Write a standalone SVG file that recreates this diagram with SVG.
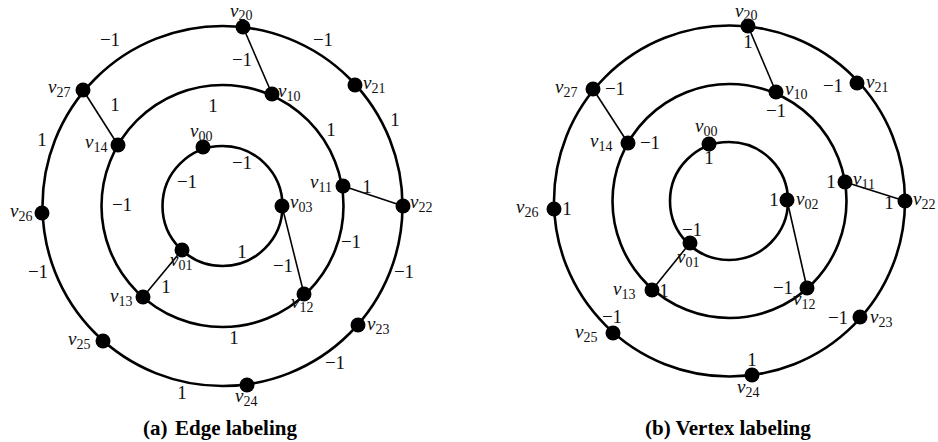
<svg xmlns="http://www.w3.org/2000/svg" width="938" height="442" viewBox="0 0 938 442">
<style>
.ring{fill:none;stroke:#000;stroke-width:2.6}
.edge{stroke:#000;stroke-width:1.6}
.dot{fill:#000}
.lb{font-family:"Liberation Serif",serif;font-style:italic;font-size:19px;fill:#111}
.sub{font-style:normal;font-size:14px}
.num{font-family:"Liberation Serif",serif;font-size:19px;fill:#111;text-anchor:middle}
.cap{font-family:"Liberation Serif",serif;font-weight:bold;font-size:21px;fill:#000}
</style>
<rect width="938" height="442" fill="#fff"/>
<g id="connectors">
<circle class="ring" cx="222.5" cy="206" r="60"/>
<circle class="ring" cx="222.5" cy="206" r="121"/>
<circle class="ring" cx="222.5" cy="206" r="180"/>
<line class="edge" x1="243" y1="27" x2="272" y2="94"/>
<line class="edge" x1="83" y1="90" x2="118" y2="145"/>
<line class="edge" x1="343" y1="186" x2="403" y2="206"/>
<line class="edge" x1="282" y1="206" x2="304" y2="294"/>
<line class="edge" x1="182" y1="250" x2="143" y2="297"/>
<circle class="ring" cx="729" cy="201" r="59"/>
<circle class="ring" cx="729.5" cy="201" r="117"/>
<circle class="ring" cx="729.5" cy="201" r="175.5"/>
<line class="edge" x1="748" y1="26" x2="776" y2="92"/>
<line class="edge" x1="593" y1="89" x2="628" y2="143"/>
<line class="edge" x1="845" y1="182" x2="905" y2="201"/>
<line class="edge" x1="787" y1="200" x2="807" y2="288"/>
<line class="edge" x1="690" y1="243" x2="652" y2="290"/>
</g>
<g id="edge-labels">
<text class="num" x="110" y="46">−1</text>
<text class="num" x="323" y="46">−1</text>
<text class="num" x="242" y="66">−1</text>
<text class="num" x="115" y="111">1</text>
<text class="num" x="213" y="112">1</text>
<text class="num" x="42" y="146">1</text>
<text class="num" x="395" y="126">1</text>
<text class="num" x="331" y="136">1</text>
<text class="num" x="367" y="193">1</text>
<text class="num" x="187" y="188">−1</text>
<text class="num" x="242" y="169">−1</text>
<text class="num" x="122" y="211">−1</text>
<text class="num" x="38" y="278">−1</text>
<text class="num" x="166" y="293">1</text>
<text class="num" x="242" y="258">1</text>
<text class="num" x="283" y="272">−1</text>
<text class="num" x="351" y="248">−1</text>
<text class="num" x="404" y="278">−1</text>
<text class="num" x="234" y="344">1</text>
<text class="num" x="335" y="369">−1</text>
<text class="num" x="182" y="399">1</text>
</g>
<g id="a-v00"><circle class="dot" cx="203" cy="147" r="7.5"/><text class="lb" x="190" y="137">v<tspan class="sub" dy="4">00</tspan></text></g>
<g id="a-v01"><circle class="dot" cx="182" cy="250" r="7.5"/><text class="lb" x="170" y="266">v<tspan class="sub" dy="4">01</tspan></text></g>
<g id="a-v03"><circle class="dot" cx="282" cy="206" r="7.5"/><text class="lb" x="290" y="208">v<tspan class="sub" dy="4">03</tspan></text></g>
<g id="a-v10"><circle class="dot" cx="272" cy="94" r="7.5"/><text class="lb" x="278" y="97">v<tspan class="sub" dy="4">10</tspan></text></g>
<g id="a-v11"><circle class="dot" cx="343" cy="186" r="7.5"/><text class="lb" x="310" y="188">v<tspan class="sub" dy="4">11</tspan></text></g>
<g id="a-v12"><circle class="dot" cx="304" cy="294" r="7.5"/><text class="lb" x="291" y="308">v<tspan class="sub" dy="4">12</tspan></text></g>
<g id="a-v13"><circle class="dot" cx="143" cy="297" r="7.5"/><text class="lb" x="110" y="302">v<tspan class="sub" dy="4">13</tspan></text></g>
<g id="a-v14"><circle class="dot" cx="118" cy="145" r="7.5"/><text class="lb" x="85" y="148">v<tspan class="sub" dy="4">14</tspan></text></g>
<g id="a-v20"><circle class="dot" cx="243" cy="27" r="7.5"/><text class="lb" x="230" y="17">v<tspan class="sub" dy="3">20</tspan></text></g>
<g id="a-v21"><circle class="dot" cx="355" cy="85" r="7.5"/><text class="lb" x="363" y="89">v<tspan class="sub" dy="4">21</tspan></text></g>
<g id="a-v22"><circle class="dot" cx="403" cy="206" r="7.5"/><text class="lb" x="410" y="208">v<tspan class="sub" dy="4">22</tspan></text></g>
<g id="a-v23"><circle class="dot" cx="358" cy="325" r="7.5"/><text class="lb" x="367" y="330">v<tspan class="sub" dy="4">23</tspan></text></g>
<g id="a-v24"><circle class="dot" cx="247" cy="385" r="7.5"/><text class="lb" x="235" y="402">v<tspan class="sub" dy="4">24</tspan></text></g>
<g id="a-v25"><circle class="dot" cx="103" cy="341" r="7.5"/><text class="lb" x="68" y="345">v<tspan class="sub" dy="4">25</tspan></text></g>
<g id="a-v26"><circle class="dot" cx="42" cy="213" r="7.5"/><text class="lb" x="10" y="217">v<tspan class="sub" dy="4">26</tspan></text></g>
<g id="a-v27"><circle class="dot" cx="83" cy="90" r="7.5"/><text class="lb" x="48" y="93">v<tspan class="sub" dy="4">27</tspan></text></g>

<g id="b-v00"><circle class="dot" cx="709" cy="144" r="7.5"/><text class="lb" x="695" y="132">v<tspan class="sub" dy="4">00</tspan></text><text class="num" x="709" y="164">1</text></g>
<g id="b-v01"><circle class="dot" cx="690" cy="243" r="7.5"/><text class="lb" x="677" y="263">v<tspan class="sub" dy="4">01</tspan></text><text class="num" x="692" y="236">−1</text></g>
<g id="b-v02"><circle class="dot" cx="787" cy="200" r="7.5"/><text class="lb" x="796" y="205">v<tspan class="sub" dy="4">02</tspan></text><text class="num" x="774" y="206">1</text></g>
<g id="b-v10"><circle class="dot" cx="776" cy="92" r="7.5"/><text class="lb" x="785" y="95">v<tspan class="sub" dy="4">10</tspan></text><text class="num" x="776" y="117">−1</text></g>
<g id="b-v11"><circle class="dot" cx="845" cy="182" r="7.5"/><text class="lb" x="853" y="185">v<tspan class="sub" dy="4">11</tspan></text><text class="num" x="831" y="188">1</text></g>
<g id="b-v12"><circle class="dot" cx="807" cy="288" r="7.5"/><text class="lb" x="793" y="305">v<tspan class="sub" dy="4">12</tspan></text><text class="num" x="783" y="294">−1</text></g>
<g id="b-v13"><circle class="dot" cx="652" cy="290" r="7.5"/><text class="lb" x="613" y="295">v<tspan class="sub" dy="4">13</tspan></text><text class="num" x="664" y="297">1</text></g>
<g id="b-v14"><circle class="dot" cx="628" cy="143" r="7.5"/><text class="lb" x="590" y="147">v<tspan class="sub" dy="4">14</tspan></text><text class="num" x="650" y="149">−1</text></g>
<g id="b-v20"><circle class="dot" cx="748" cy="26" r="7.5"/><text class="lb" x="735" y="17">v<tspan class="sub" dy="3">20</tspan></text><text class="num" x="748" y="48">1</text></g>
<g id="b-v21"><circle class="dot" cx="857" cy="83" r="7.5"/><text class="lb" x="866" y="88">v<tspan class="sub" dy="4">21</tspan></text><text class="num" x="833" y="92">−1</text></g>
<g id="b-v22"><circle class="dot" cx="905" cy="201" r="7.5"/><text class="lb" x="913" y="205">v<tspan class="sub" dy="4">22</tspan></text><text class="num" x="889" y="209">1</text></g>
<g id="b-v23"><circle class="dot" cx="860" cy="317" r="7.5"/><text class="lb" x="870" y="323">v<tspan class="sub" dy="4">23</tspan></text><text class="num" x="838" y="324">−1</text></g>
<g id="b-v24"><circle class="dot" cx="752" cy="375" r="7.5"/><text class="lb" x="737" y="393">v<tspan class="sub" dy="4">24</tspan></text><text class="num" x="752" y="366">1</text></g>
<g id="b-v25"><circle class="dot" cx="613" cy="333" r="7.5"/><text class="lb" x="575" y="338">v<tspan class="sub" dy="4">25</tspan></text><text class="num" x="612" y="323">−1</text></g>
<g id="b-v26"><circle class="dot" cx="554" cy="209" r="7.5"/><text class="lb" x="516" y="213">v<tspan class="sub" dy="4">26</tspan></text><text class="num" x="567" y="215">1</text></g>
<g id="b-v27"><circle class="dot" cx="593" cy="89" r="7.5"/><text class="lb" x="555" y="93">v<tspan class="sub" dy="4">27</tspan></text><text class="num" x="615" y="95">−1</text></g>

<text class="cap" x="143" y="435">(a)<tspan x="175">Edge labeling</tspan></text>
<text class="cap" x="645" y="435">(b) Vertex labeling</text>
</svg>
